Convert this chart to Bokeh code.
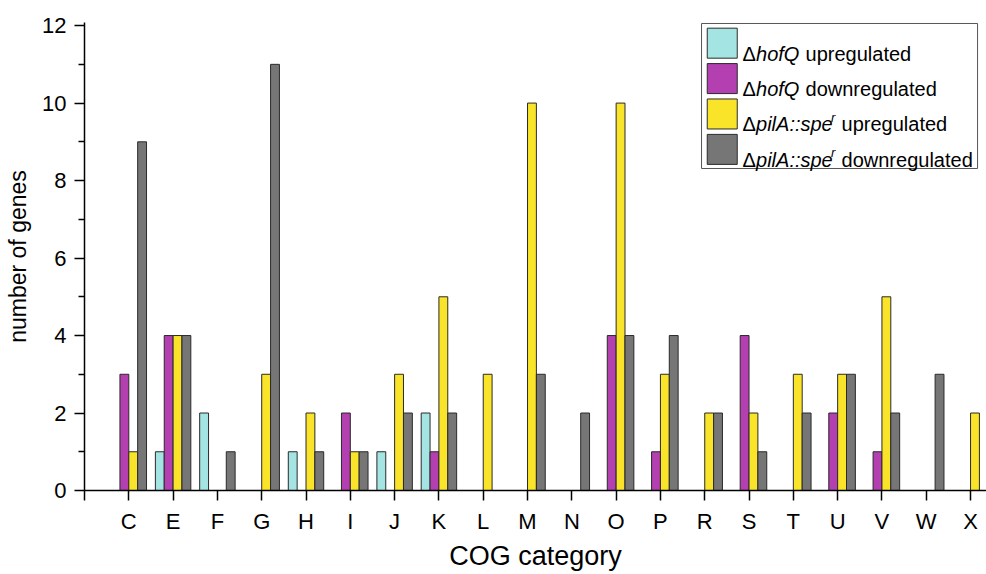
from bokeh.plotting import figure
from bokeh.models import ColumnDataSource, FixedTicker, Range1d
from bokeh.core.properties import value
from bokeh.embed import file_html
from bokeh.resources import INLINE

# ---------------- data ----------------
categories = ["C", "E", "F", "G", "H", "I", "J", "K", "L", "M",
              "N", "O", "P", "R", "S", "T", "U", "V", "W", "X"]
hofq_up = [0, 1, 2, 0, 1, 0, 1, 2, 0, 0, 0, 0, 0, 0, 0, 0, 0, 0, 0, 0]
hofq_down = [3, 4, 0, 0, 0, 2, 0, 1, 0, 0, 0, 4, 1, 0, 4, 0, 2, 1, 0, 0]
pila_up = [1, 4, 0, 3, 2, 1, 3, 5, 3, 10, 0, 10, 3, 2, 2, 3, 3, 5, 0, 2]
pila_down = [9, 4, 1, 11, 1, 1, 2, 2, 0, 3, 2, 4, 4, 2, 1, 2, 3, 2, 3, 0]

series = [hofq_up, hofq_down, pila_up, pila_down]
colors = ["#A4E4E2", "#B33FB1", "#F9E429", "#767676"]
offsets = [-0.3, -0.1, 0.1, 0.3]
BAR_W = 0.2

y_major = [0, 2, 4, 6, 8, 10, 12]
y_minor = [1, 3, 5, 7, 9, 11]

FONT = "Liberation Sans"

p = figure(width=986, height=574, output_backend="svg", toolbar_location=None,
           x_range=Range1d(0, 20.36), y_range=Range1d(0, 12.08),
           min_border_left=84, min_border_right=0, min_border_top=22,
           min_border_bottom=84)
p.outline_line_color = None
p.xgrid.visible = False
p.ygrid.visible = False
p.background_fill_color = "white"
p.border_fill_color = "white"

# bars
for vals, col, off in zip(series, colors, offsets):
    xs = [i + 1 + off for i, v in enumerate(vals) if v > 0]
    ys = [v for v in vals if v > 0]
    src = ColumnDataSource(dict(x=xs, top=ys))
    p.vbar(x="x", top="top", bottom=0, width=BAR_W, source=src,
           fill_color=col, line_color="#2a2a2a", line_width=1)

# axes
p.xaxis.ticker = FixedTicker(ticks=list(range(0, len(categories) + 1)), minor_ticks=[])
p.xaxis.major_label_overrides = {0: ""} | {i + 1: c for i, c in enumerate(categories)}
p.yaxis.ticker = FixedTicker(ticks=y_major, minor_ticks=y_minor)

for ax in (p.xaxis[0], p.yaxis[0]):
    ax.axis_line_color = "black"
    ax.axis_line_width = 1.5
    ax.major_tick_line_color = "black"
    ax.major_tick_line_width = 1.5
    ax.major_tick_out = 10
    ax.major_tick_in = 0
    ax.minor_tick_line_color = "black"
    ax.minor_tick_line_width = 1.5
    ax.minor_tick_out = 6
    ax.minor_tick_in = 0
    ax.major_label_text_font = FONT
    ax.major_label_text_font_size = "22px"
    ax.major_label_text_color = "black"
    ax.major_label_standoff = 8
    ax.axis_label_text_font = FONT
    ax.axis_label_text_font_style = "normal"
    ax.axis_label_text_color = "black"

p.xaxis.axis_label = "COG category"
p.xaxis.axis_label_text_font_size = "27px"
p.xaxis.axis_label_standoff = 4
p.yaxis.axis_label = "number of genes"
p.yaxis.axis_label_text_font_size = "23px"
p.yaxis.axis_label_standoff = 8

# ---------------- legend (drawn manually for mixed italic text) ----------------
PX_X, PX_Y, X0, Y0 = 44.3, 38.74, 84.0, 490.0
def dx(px):
    return (px - X0) / PX_X
def dy(py):
    return (Y0 - py) / PX_Y

p.quad(left=[dx(701)], right=[dx(977)], top=[dy(23)], bottom=[dy(168)],
       fill_color="white", line_color="#555555", line_width=1)

row_top = [27.7, 63.1, 98.5, 133.9]
sw_h = 30
p.quad(left=[dx(706.7)] * 4, right=[dx(736.7)] * 4,
       top=[dy(t) for t in row_top], bottom=[dy(t + sw_h) for t in row_top],
       fill_color=colors, line_color="#2a2a2a", line_width=1)

base = [t + sw_h / 2 + 10.5 for t in row_top]
gene_names = ["hofQ", "hofQ", "pilA::spe", "pilA::spe"]
rest = ["upregulated", "downregulated", "upregulated", "downregulated"]
rest_x = [805, 805, 841, 841]

common = dict(text_font=value(FONT), text_font_size="20px", text_color="black",
              text_baseline="alphabetic", text_align="left")
p.text(x=[dx(742)] * 4, y=[dy(b) for b in base], text=["Δ"] * 4, **common)
p.text(x=[dx(755.5)] * 4, y=[dy(b) for b in base], text=gene_names,
       text_font_style="italic", **common)
p.text(x=[dx(x) for x in rest_x], y=[dy(b) for b in base], text=rest, **common)
# superscript r
p.text(x=[dx(830.5)] * 2, y=[dy(base[2] - 7), dy(base[3] - 7)], text=["r", "r"],
       text_font=value(FONT), text_font_size="13px", text_color="black",
       text_font_style="italic", text_baseline="alphabetic", text_align="left")

open("out.html", "w").write(file_html(p, INLINE))
